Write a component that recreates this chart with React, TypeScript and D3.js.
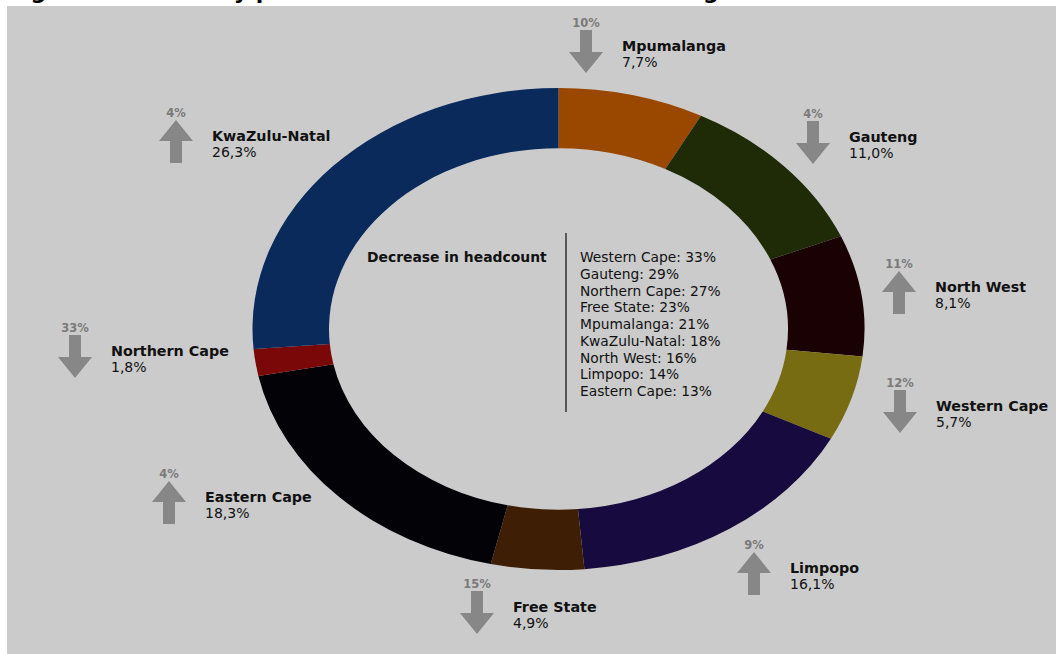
import React, { useEffect, useRef } from "react";
import * as d3 from "d3";

// provinces clockwise from 12 o'clock
const provinces = [
  "Mpumalanga",
  "Gauteng",
  "North West",
  "Western Cape",
  "Limpopo",
  "Free State",
  "Eastern Cape",
  "Northern Cape",
  "KwaZulu-Natal",
];
const shareLabels = ["7,7%", "11,0%", "8,1%", "5,7%", "16,1%", "4,9%", "18,3%", "1,8%", "26,3%"];
const shares = [7.7, 11.0, 8.1, 5.7, 16.1, 4.9, 18.3, 1.8, 26.3];
const changes = ["10%", "4%", "11%", "12%", "9%", "15%", "4%", "33%", "4%"];
const directions = ["down", "down", "up", "down", "up", "down", "up", "down", "up"];
const sliceColors = [
  "#9a4700",
  "#1f2a07",
  "#1a0104",
  "#786c12",
  "#160a3e",
  "#3e1f06",
  "#030307",
  "#7a0808",
  "#0a2a5c",
];

const decreaseNames = [
  "Western Cape",
  "Gauteng",
  "Northern Cape",
  "Free State",
  "Mpumalanga",
  "KwaZulu-Natal",
  "North West",
  "Limpopo",
  "Eastern Cape",
];
const decreaseValues = ["33%", "29%", "27%", "23%", "21%", "18%", "16%", "14%", "13%"];

// only the bottom of the title survives the crop in the reference
const title = "Figure 14: Posts by province and the decrease in staffing";

// callout placement: arrow centre x and arrow top y
const callouts = [
  [586, 30],
  [813, 121],
  [899, 271],
  [900, 390],
  [754, 552],
  [477, 591],
  [169, 481],
  [75, 335],
  [176, 120],
];

const W = 1056;
const H = 654;
const FONT = "'DejaVu Sans', sans-serif";

export default function App() {
  const ref = useRef<SVGSVGElement>(null);

  useEffect(() => {
    const svg = d3.select(ref.current);
    svg.selectAll("*").remove();

    svg.append("rect").attr("x", 7).attr("y", 6).attr("width", W - 7).attr("height", H - 6).attr("fill", "#cbcbcb");

    svg
      .append("text")
      .attr("x", 8)
      .attr("y", -1)
      .attr("font-family", FONT)
      .attr("font-weight", "bold")
      .attr("font-size", 22)
      .attr("fill", "#000")
      .text(title);

    // donut, drawn as a circle and stretched to the ellipse of the original
    const cx = 558.5,
      cy = 329,
      ry = 241,
      rx = 306;
    const pie = d3.pie<number>().sort(null).value((d) => d);
    const arc = d3.arc<d3.PieArcDatum<number>>().innerRadius(ry * 0.75).outerRadius(ry);

    const g = svg.append("g").attr("transform", `translate(${cx},${cy}) scale(${rx / ry},1)`);
    g.selectAll("path")
      .data(pie(shares))
      .enter()
      .append("path")
      .attr("d", arc)
      .attr("fill", (d, i) => sliceColors[i]);

    // centre text
    svg
      .append("text")
      .attr("x", 367)
      .attr("y", 262)
      .attr("font-family", FONT)
      .attr("font-weight", "bold")
      .attr("font-size", 13.9)
      .attr("fill", "#111")
      .text("Decrease in headcount");

    svg.append("line").attr("x1", 566).attr("x2", 566).attr("y1", 233).attr("y2", 412).attr("stroke", "#333").attr("stroke-width", 1.5);

    const listY = d3.scalePoint().domain(decreaseNames).range([262, 396]);
    svg
      .selectAll(".dec")
      .data(decreaseNames)
      .enter()
      .append("text")
      .attr("class", "dec")
      .attr("x", 580)
      .attr("y", (d) => listY(d))
      .attr("font-family", FONT)
      .attr("font-size", 13.8)
      .attr("fill", "#111")
      .text((d, i) => `${d}: ${decreaseValues[i]}`);

    // callouts
    const headW = 17,
      shaftW = 6,
      headH = 21,
      len = 43;
    provinces.forEach((name, i) => {
      const [ax, top] = callouts[i];
      const bottom = top + len;
      let pts;
      if (directions[i] === "down") {
        const hb = bottom - headH;
        pts = [
          [ax - shaftW, top],
          [ax + shaftW, top],
          [ax + shaftW, hb],
          [ax + headW, hb],
          [ax, bottom],
          [ax - headW, hb],
          [ax - shaftW, hb],
        ];
      } else {
        const hb = top + headH;
        pts = [
          [ax, top],
          [ax + headW, hb],
          [ax + shaftW, hb],
          [ax + shaftW, bottom],
          [ax - shaftW, bottom],
          [ax - shaftW, hb],
          [ax - headW, hb],
        ];
      }
      svg.append("polygon").attr("points", pts.map((p) => p.join(",")).join(" ")).attr("fill", "#878787");

      svg
        .append("text")
        .attr("x", ax)
        .attr("y", top - 3)
        .attr("text-anchor", "middle")
        .attr("font-family", FONT)
        .attr("font-weight", "bold")
        .attr("font-size", 11.5)
        .attr("fill", "#7a7a7a")
        .text(changes[i]);

      svg
        .append("text")
        .attr("x", ax + 36)
        .attr("y", top + 21)
        .attr("font-family", FONT)
        .attr("font-weight", "bold")
        .attr("font-size", 14.3)
        .attr("fill", "#111")
        .text(name);

      svg
        .append("text")
        .attr("x", ax + 36)
        .attr("y", top + 37)
        .attr("font-family", FONT)
        .attr("font-size", 14)
        .attr("fill", "#111")
        .text(shareLabels[i]);
    });
  }, []);

  return (
    <svg
      ref={ref}
      width={W}
      height={H}
      style={{ position: "absolute", left: 0, top: 0, background: "#fff", display: "block" }}
    />
  );
}
